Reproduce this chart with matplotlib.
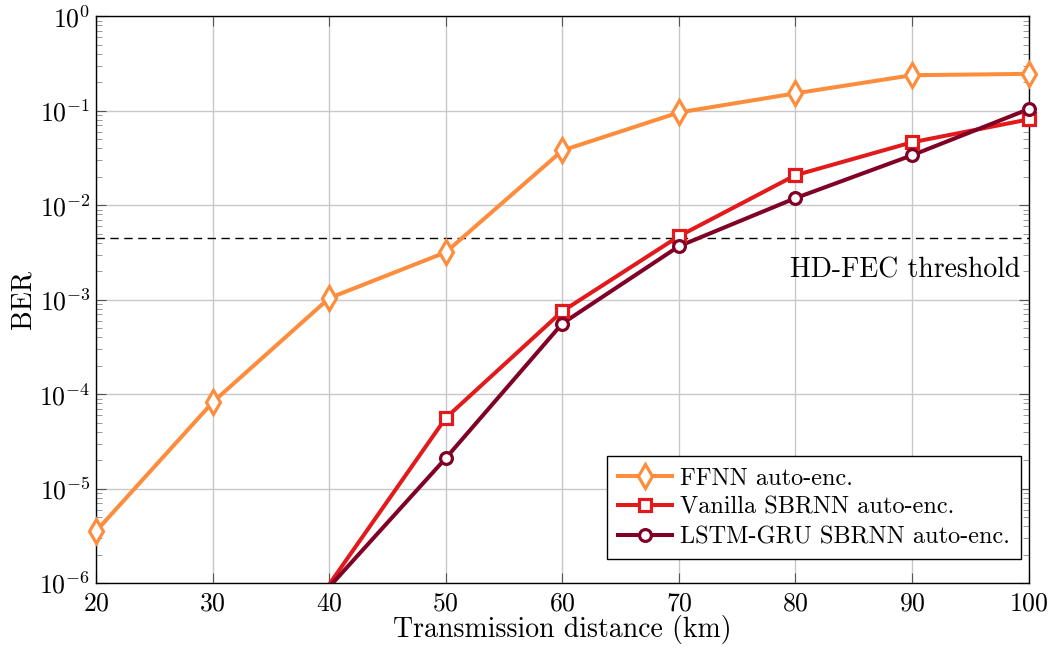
import numpy as np
import matplotlib
matplotlib.use('Agg')
import matplotlib.pyplot as plt

plt.rcParams['font.family'] = ['cmr10', 'DejaVu Serif']
plt.rcParams['mathtext.fontset'] = 'cm'
plt.rcParams['axes.formatter.use_mathtext'] = True

distance = [20, 30, 40, 50, 60, 70, 80, 90, 100]
ffnn_ber = [3.55e-6, 8.2e-5, 1.04e-3, 3.18e-3, 3.8e-2, 9.6e-2, 0.153, 0.238, 0.246]
vanilla_dist = [40, 50, 60, 70, 80, 90, 100]
vanilla_ber = [9.7e-7, 5.6e-5, 7.55e-4, 4.7e-3, 2.08e-2, 4.64e-2, 8.1e-2]
lstm_dist = [40, 50, 60, 70, 80, 90, 100]
lstm_ber = [9.1e-7, 2.1e-5, 5.6e-4, 3.68e-3, 1.19e-2, 3.38e-2, 0.104]
hd_fec = 4.5e-3

ymin, ymax = 1e-6, 1e0

fig, ax = plt.subplots(figsize=(10.56, 6.53), dpi=100)
plt.subplots_adjust(left=0.091, right=0.974, top=0.975, bottom=0.107)

series = [
    (distance, ffnn_ber, '#fd8d3c', 'd', 12.5, 'FFNN auto-enc.'),
    (vanilla_dist, vanilla_ber, '#e31a1c', 's', 8.0, 'Vanilla SBRNN auto-enc.'),
    (lstm_dist, lstm_ber, '#800026', 'o', 8.5, 'LSTM-GRU SBRNN auto-enc.'),
]
for xs, ys, col, mk, ms, lab in series:
    # line is clipped to the axes, markers are not (pgfplots style)
    ax.plot(xs, ys, color=col, lw=2.9, zorder=3)
    xm = [x for x, v in zip(xs, ys) if v >= ymin]
    ym = [v for v in ys if v >= ymin]
    ax.plot(xm, ym, ls='none', marker=mk, ms=ms, mfc='white', mec=col,
            mew=2.3, clip_on=False, zorder=4)
    # proxy for the legend
    ax.plot([], [], color=col, lw=2.9, marker=mk, ms=ms, mfc='white',
            mec=col, mew=2.3, label=lab)

ax.axhline(hd_fec, color='black', lw=1.0, ls=(0, (6, 4)), zorder=2)
ax.text(99.3, 2.05e-3, 'HD-FEC threshold', ha='right', va='center', fontsize=20)

ax.set_yscale('log')
ax.set_xlim(20, 100)
ax.set_ylim(ymin, ymax)
ax.set_xticks(distance)
ax.set_yticks([10.0 ** k for k in range(-6, 1)])
ax.grid(True, which='major', color='#c8c8c8', lw=1.0)
ax.set_axisbelow(True)

ax.tick_params(which='both', direction='in', top=True, right=True, labelsize=18.5)
ax.tick_params(which='major', length=7, color='#555555')
ax.tick_params(which='minor', length=4, color='#888888')
ax.tick_params(axis='x', pad=6)
ax.tick_params(axis='y', pad=4)
for s in ax.spines.values():
    s.set_linewidth(1.0)

ax.set_xlabel('Transmission distance (km)', fontsize=20, labelpad=0)
ax.set_ylabel('BER', fontsize=20, labelpad=2)

leg = ax.legend(loc='lower right', bbox_to_anchor=(0.992, 0.042), fontsize=17.5,
                fancybox=False, edgecolor='black', framealpha=1,
                handlelength=2.2, handletextpad=0.35, borderpad=0.45,
                labelspacing=0.3, borderaxespad=0)
leg.get_frame().set_linewidth(1.0)

plt.savefig('out.png', dpi=100)
